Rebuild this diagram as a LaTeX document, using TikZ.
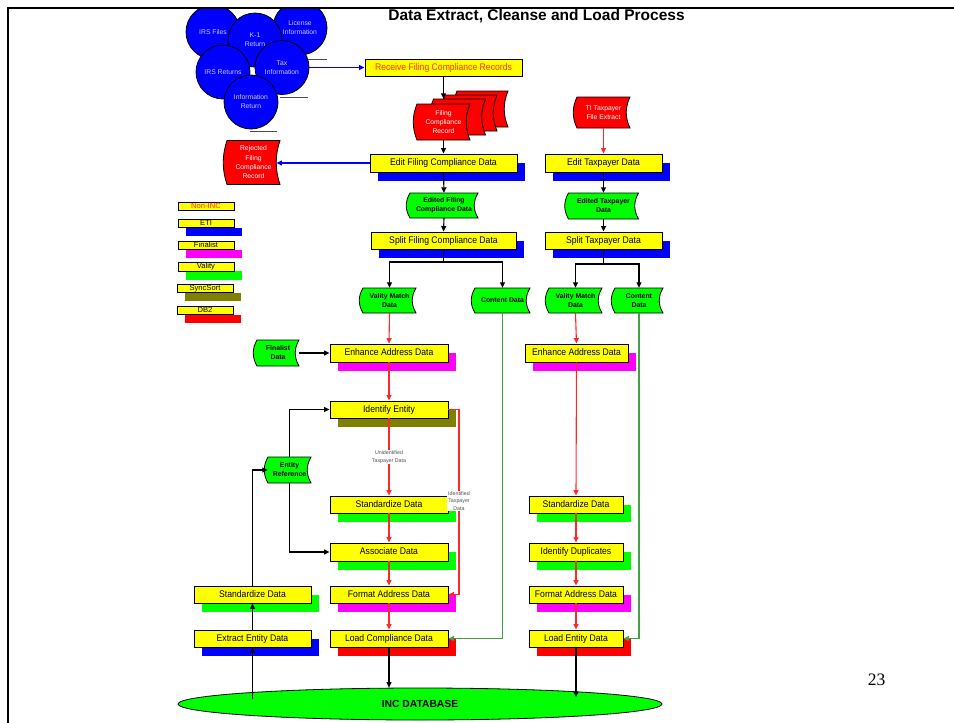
\documentclass[tikz,border=0pt]{standalone}
\usepackage{fontspec}
\setmainfont{Liberation Sans}
\newfontfamily\serifnum{Liberation Serif}
\newfontfamily\boxfam[FakeStretch=0.9]{Liberation Sans}
\usetikzlibrary{arrows.meta,shapes.geometric}

\definecolor{ygold}{RGB}{255,255,0}
\definecolor{vgreen}{RGB}{0,255,0}
\definecolor{mag}{RGB}{255,0,255}
\definecolor{olivec}{RGB}{128,128,0}
\definecolor{pblue}{RGB}{0,0,255}
\definecolor{pred}{RGB}{255,0,0}
\definecolor{lred}{RGB}{255,40,40}
\definecolor{orred}{RGB}{255,51,0}
\definecolor{cdgreen}{RGB}{70,160,70}
\definecolor{circtext}{RGB}{205,205,255}
\definecolor{labgray}{RGB}{80,80,80}

\newcommand\boxfont{\boxfam\fontsize{9.6}{11}\selectfont}
\newcommand\cfont{\fontsize{6.8}{9}\selectfont}
\newcommand\sdfont{\fontsize{6.8}{9.3}\selectfont}
\newcommand\sdbold{\fontsize{6.9}{9}\selectfont\bfseries}
\newcommand\lblfont{\fontsize{5.3}{7.3}\selectfont}
\newcommand\legfont{\fontsize{7.6}{8}\selectfont}
\newcommand\titlefont{\fontsize{15.5}{18}\selectfont\bfseries}

\tikzset{
  ybox/.style={draw=black, fill=ygold, line width=0.9pt, inner sep=0pt, font=\boxfont, text=black, text height=6.9pt, text depth=1.2pt},
  legbox/.style={draw=black, fill=ygold, line width=0.8pt, inner sep=0pt, font=\legfont, text=black, text height=5.4pt, text depth=0.9pt},
  circ/.style={circle, draw=black, fill=pblue, line width=0.8pt, minimum size=54pt, inner sep=0pt, align=center, font=\cfont, text=circtext},
  sdline/.style={draw=black, line width=0.8pt},
  arr/.style={line width=1.1pt, -{Triangle[length=5.5pt,width=5pt]}},
  blk/.style={arr, draw=black},
  rarr/.style={arr, draw=lred},
  barr/.style={arr, draw=pblue},
  garr/.style={arr, line width=1.2pt, draw=cdgreen},
  lin/.style={line width=1.1pt, draw=black},
  lbl/.style={fill=white, inner sep=1pt, align=center, font=\lblfont, text=labgray},
  glines/.style={draw=gray!60!black, line width=0.9pt},
  edge shade/.style={fill=black!55}
}

% stored-data shape: name, x, y, w, h, fill, node options, text
\newcommand\stdata[8]{%
  \filldraw[sdline, fill=#6] ({#2-#4/2},{#3-#5/2}) -- ({#2+#4/2},{#3-#5/2})
    .. controls ({#2+#4/2-5},{#3-#5/6}) and ({#2+#4/2-5},{#3+#5/6}) .. ({#2+#4/2},{#3+#5/2})
    -- ({#2-#4/2},{#3+#5/2})
    .. controls ({#2-#4/2-5},{#3+#5/6}) and ({#2-#4/2-5},{#3-#5/6}) .. cycle;
  \node[minimum width=#4, minimum height=#5, inner sep=0pt, align=center, #7] (#1) at (#2,#3) {#8};}

% yellow box with coloured shadow: name, x1, y1, x2, y2, shadow colour, text
\newcommand\yrect[7]{%
  \path[fill=#6] ({#2+8},{#3+9}) rectangle ({#4+8},{#5+9});
  \path[edge shade] ({#2+1.3},{#3+1.3}) rectangle ({#4+1.3},{#5+1.3});
  \node[ybox, minimum width={#4-#2}, minimum height={#5-#3}] (#1) at ({(#2+#4)/2},{(#3+#5)/2}) {#7};}

% legend box: name, x1, y1, x2, y2, shadow colour, text
\newcommand\lrect[7]{%
  \path[fill=#6] ({#2+8},{#3+9}) rectangle ({#4+8},{#5+9});
  \path[edge shade] ({#2+1},{#3+1}) rectangle ({#4+1},{#5+1});
  \node[legbox, minimum width={#4-#2}, minimum height={#5-#3}] (#1) at ({(#2+#4)/2},{(#3+#5)/2}) {#7};}

\begin{document}
\begin{tikzpicture}[x=1pt,y=-1pt]
\useasboundingbox (0,0) rectangle (954,723);

% source circles
\node[circ] (irsfiles) at (213,32) {IRS Files};
\node[circ] (license) at (300,28) {License\\Information};
\node[circ] (k1) at (255,40) {K-1\\Return};
\node[circ] (irsret) at (223,72) {IRS Returns};
\node[circ] (taxinfo) at (282,67.5) {Tax\\Information};
\node[circ] (inforet) at (251,102) {Information\\Return};
\draw[glines] (308,59.3) -- (327,59.3);
\draw[glines] (280,97.7) -- (308,97.7);
\draw[glines] (250,131.7) -- (277,131.7);

% frame and title
\fill[white] (0,0) rectangle (954,7);
\draw[line width=2.5pt] (954,8) -- (8,8) -- (8,723);
\node[font=\titlefont, anchor=base] (title) at (536.5,20) {Data Extract, Cleanse and Load Process};

% top flow
\yrect{receive}{365}{59}{522}{76}{none}{\textcolor{orred}{Receive Filing Compliance Records}}
\stdata{fcr4}{482.5}{109}{51}{36}{pred}{}{}
\stdata{fcr3}{471}{113}{52}{36}{pred}{}{}
\stdata{fcr2}{459.5}{117}{52}{36}{pred}{}{}
\stdata{fcr1}{443.5}{122}{53}{36}{pred}{text=white, font=\sdfont}{Filing\\Compliance\\Record}
\stdata{tiext}{603.5}{112.5}{53}{31}{pred}{text=white, font=\sdfont}{TI Taxpayer\\File Extract}
\stdata{rejected}{253.5}{162.5}{53}{44}{pred}{text=white, font=\sdfont}{Rejected\\Filing\\Compliance\\Record}

\yrect{editfc}{370}{154}{517}{172}{pblue}{Edit Filing Compliance Data}
\yrect{edittp}{545}{154}{662}{172}{pblue}{Edit Taxpayer Data}
\stdata{editedfc}{444}{205.5}{68}{25}{vgreen}{font=\sdbold}{Edited Filing\\Compliance Data}
\stdata{editedtp}{603.5}{206}{70}{26}{vgreen}{font=\sdbold}{Edited Taxpayer\\Data}
\yrect{splitfc}{371}{232}{516}{249}{pblue}{Split Filing Compliance Data}
\yrect{splittp}{545}{232}{662}{249}{pblue}{Split Taxpayer Data}

\stdata{vm1}{389.5}{300.5}{53}{25}{vgreen}{font=\sdbold}{Vality Match\\Data}
\stdata{cd1}{502.5}{300.5}{55}{25}{vgreen}{font=\sdbold}{Content Data}
\stdata{vm2}{575.5}{300.5}{53}{25}{vgreen}{font=\sdbold}{Vality Match\\Data}
\stdata{cd2}{639}{300.5}{48}{25}{vgreen}{font=\sdbold}{Content\\Data}

% legend
\lrect{lg1}{178}{202}{234}{210}{none}{\textcolor{orred}{Non-INC}}
\lrect{lg2}{178}{219}{234}{227}{pblue}{ETI}
\lrect{lg3}{178}{241}{234}{249}{mag}{Finalist}
\lrect{lg4}{178}{262}{234}{271}{vgreen}{Vality}
\lrect{lg5}{177}{284}{233}{292}{olivec}{SyncSort}
\lrect{lg6}{177}{306}{233}{314}{pred}{DB2}

% main column
\stdata{finalist}{278}{353}{42}{26}{vgreen}{font=\sdbold}{Finalist\\Data}
\yrect{enh1}{330}{344}{448}{362}{mag}{Enhance Address Data}
\yrect{ident}{330}{401}{448}{418}{olivec}{Identify Entity}
\stdata{entref}{289.5}{470}{43}{26}{vgreen}{font=\sdbold}{Entity\\Reference}
\yrect{std1}{330}{496}{448}{513}{vgreen}{Standardize Data}
\yrect{assoc}{330}{543}{448}{561}{vgreen}{Associate Data}
\yrect{fmt1}{330}{586}{448}{603}{mag}{Format Address Data}
\yrect{load1}{330}{630}{448}{647}{pred}{Load Compliance Data}
\yrect{std2}{194}{586}{311}{603}{vgreen}{Standardize Data}
\yrect{extract}{194}{630}{311}{647}{pblue}{Extract Entity Data}

% right column
\yrect{enh2}{525}{344}{628}{362}{mag}{Enhance Address Data}
\yrect{stdR}{529}{496}{623}{513}{vgreen}{Standardize Data}
\yrect{dup}{529}{543}{623}{561}{vgreen}{Identify Duplicates}
\yrect{fmtR}{529}{586}{623}{603}{mag}{Format Address Data}
\yrect{loadR}{529}{630}{623}{647}{pred}{Load Entity Data}

% database
\node[ellipse, draw=black, fill=vgreen, line width=0.8pt, minimum width=484pt, minimum height=32pt, inner sep=0pt, font=\fontsize{10.3}{12}\selectfont\bfseries] (db) at (420,704) {INC DATABASE};

\node[font=\serifnum\fontsize{17.5}{20}\selectfont, anchor=base] (pagenum) at (876.5,685) {23};

% coordinates
\coordinate (jL) at (443.5,262);
\coordinate (jR) at (603.5,264);
\coordinate (idx) at (459,0);
\coordinate (dbL) at (252.5,699);
\coordinate (dbR) at (576,697);

% connectors
\draw[barr] (taxinfo.east) -- (receive.west);
\draw[blk] (receive.south) -- (receive.south |- fcr2.north);
\draw[blk] (fcr1.south) -- (editfc.north);
\draw[barr] (editfc.west) -- ([xshift=-3.75pt]rejected.east |- editfc.west);
\draw[rarr] (tiext.south) -- (edittp.north);
\draw[blk] (editfc.south) -- (editedfc.north);
\draw[blk] (editedfc.south) -- (splitfc.north);
\draw[blk] (edittp.south) -- (editedtp.north);
\draw[blk] (editedtp.south) -- (splittp.north);
\draw[lin] (splitfc.south) -- (jL);
\draw[blk] (jL) -| (vm1.north);
\draw[blk] (jL) -| (cd1.north);
\draw[lin] (splittp.south) -- (jR);
\draw[blk] (jR) -| (vm2.north);
\draw[blk] (jR) -| (cd2.north);

\draw[rarr] (vm1.south) -- (enh1.north);
\draw[blk] (finalist.east) -- (enh1.west);
\draw[rarr] (enh1.south) -- (ident.north);
\draw[rarr] (ident.south) -- (std1.north);
\draw[rarr] (ident.east) -- (ident.east -| idx) |- (fmt1.east);
\draw[rarr] (std1.south) -- (assoc.north);
\draw[rarr] (assoc.south) -- (fmt1.north);
\draw[rarr] (fmt1.south) -- (load1.north);
\draw[blk] (load1.south) -- (load1.south |- db.north);
\draw[garr] (cd1.south) |- (load1.east);

\draw[blk] (dbL) -- (extract.south);
\draw[blk] (extract.north) -- (std2.south);
\draw[blk] (std2.north) |- (entref.west);
\draw[blk] (entref.north) |- (ident.west);
\draw[blk] (entref.south) |- (assoc.west);

\draw[rarr] (vm2.south) -- (enh2.north);
\draw[rarr] (enh2.south) -- (stdR.north);
\draw[rarr] (stdR.south) -- (dup.north);
\draw[rarr] (dup.south) -- (fmtR.north);
\draw[rarr] (fmtR.south) -- (loadR.north);
\draw[blk] (loadR.south) -- (dbR);
\draw[garr] (cd2.south) |- (loadR.east);

% labels on connectors
\node[lbl] (unidlbl) at (389,457) {Unidentified\\Taxpayer Data};
\node[lbl] (idlbl) at (459,501) {Identified\\Taxpayer\\Data};
\end{tikzpicture}
\end{document}
